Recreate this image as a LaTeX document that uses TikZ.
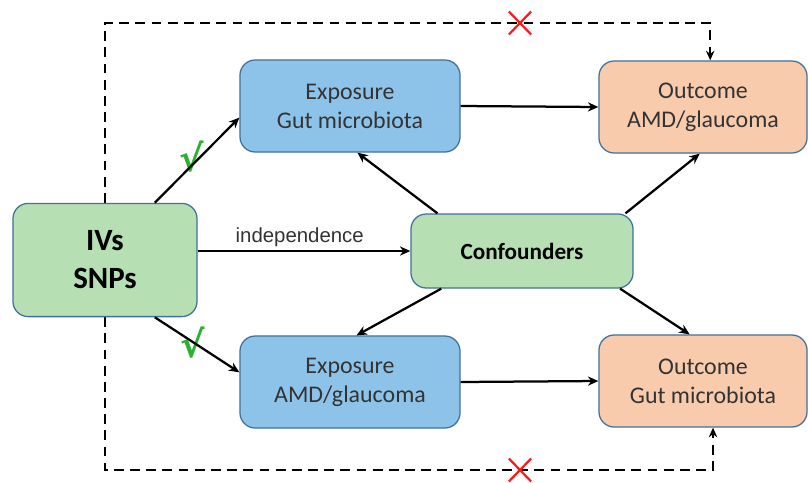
\documentclass[tikz,border=0pt]{standalone}
\usepackage{fontspec}
\setmainfont{Carlito}
\newfontfamily\symfont{DejaVu Sans}
\newfontfamily\labelfont{Liberation Sans}
\usepackage{xcolor}
\usetikzlibrary{arrows.meta,shapes.misc,backgrounds}
\definecolor{Ink}{HTML}{333333}
\definecolor{Edge}{HTML}{41719C}
\definecolor{ExpBlue}{HTML}{8DC3E9}
\definecolor{OutPeach}{HTML}{F8CBAD}
\definecolor{IvGreen}{HTML}{B6DFB4}
\definecolor{TickGreen}{HTML}{2DB032}
\definecolor{CrossRed}{HTML}{FF1A1A}

\tikzset{
  box/.style={draw=Edge, line width=0.9pt, rounded corners=0.38cm, align=center, text=Ink},
  expbox/.style={box, fill=ExpBlue, minimum width=5.5cm, minimum height=2.3cm, font=\fontsize{17}{20.5}\selectfont},
  outbox/.style={box, fill=OutPeach, minimum width=5.2cm, minimum height=2.3cm, font=\fontsize{17}{20.5}\selectfont},
  link/.style={line width=1.6pt, -{Stealth[length=2.6mm, width=2.3mm]}},
  dashlink/.style={line width=1.7pt, dash pattern=on 7pt off 4.5pt, -{Stealth[length=2.4mm, width=2.1mm]}},
  tick/.style={text=TickGreen, font=\symfont\bfseries\fontsize{26}{26}\selectfont},
  nogo/.style={cross out, draw=CrossRed, line width=1.6pt, minimum width=0.5cm, minimum height=0.52cm, inner sep=0pt}
}

\begin{document}
\begin{tikzpicture}[x=0.025cm, y=-0.025cm]
  \useasboundingbox (0,0) rectangle (808,482);

  % boxes
  \node[box, fill=IvGreen, text=black, minimum width=4.6cm, minimum height=2.83cm,
        font=\bfseries\fontsize{22}{27}\selectfont] (ivs) at (105,260) {IVs\\SNPs};
  \node[box, fill=IvGreen, text=black, minimum width=5.55cm, minimum height=1.85cm,
        font=\bfseries\fontsize{16.5}{19}\selectfont] (conf) at (522,251) {Confounders};
  \node[expbox] (exptop) at (350,106) {Exposure\\Gut microbiota};
  \node[outbox] (outtop) at (703,107) {Outcome\\AMD/glaucoma};
  \node[expbox] (expbot) at (350,382) {Exposure\\AMD/glaucoma};
  \node[outbox] (outbot) at (703,381) {Outcome\\Gut microbiota};

  % marks
  \node[tick] (tickup) at (192,157) {√};
  \node[tick] (tickdown) at (193,343) {√};
  \node[nogo] (xtop) at (520,23) {};
  \node[nogo] (xbot) at (520,470) {};

  % pleiotropy paths
  \begin{scope}[on background layer]
    \draw[dashlink] (ivs.north) |- (xtop.center) -| ([xshift=0.18cm]outtop.north);
    \draw[dashlink] (ivs.south) |- (xbot.center) -| ([xshift=0.25cm]outbot.south);
  \end{scope}

  % causal arrows
  \draw[link] (ivs.49) -- (exptop.186);
  \draw[link] (ivs.-49) -- (expbot.175);
  \draw[link] (ivs.east |- conf) -- node[above, pos=0.48, text=Ink, font=\labelfont\fontsize{14.5}{17}\selectfont, yshift=-1pt] (indep) {independence} (conf.west);
  \draw[link] (exptop.east) -- (outtop.west);
  \draw[link] (expbot.east) -- (outbot.west);
  \draw[link] (conf.156) -- (exptop.-81);
  \draw[link] (conf.20) -- (outtop.-94);
  \draw[link] (conf.205) -- (expbot.82);
  \draw[link] (conf.-21) -- (outbot.106);
\end{tikzpicture}
\end{document}
